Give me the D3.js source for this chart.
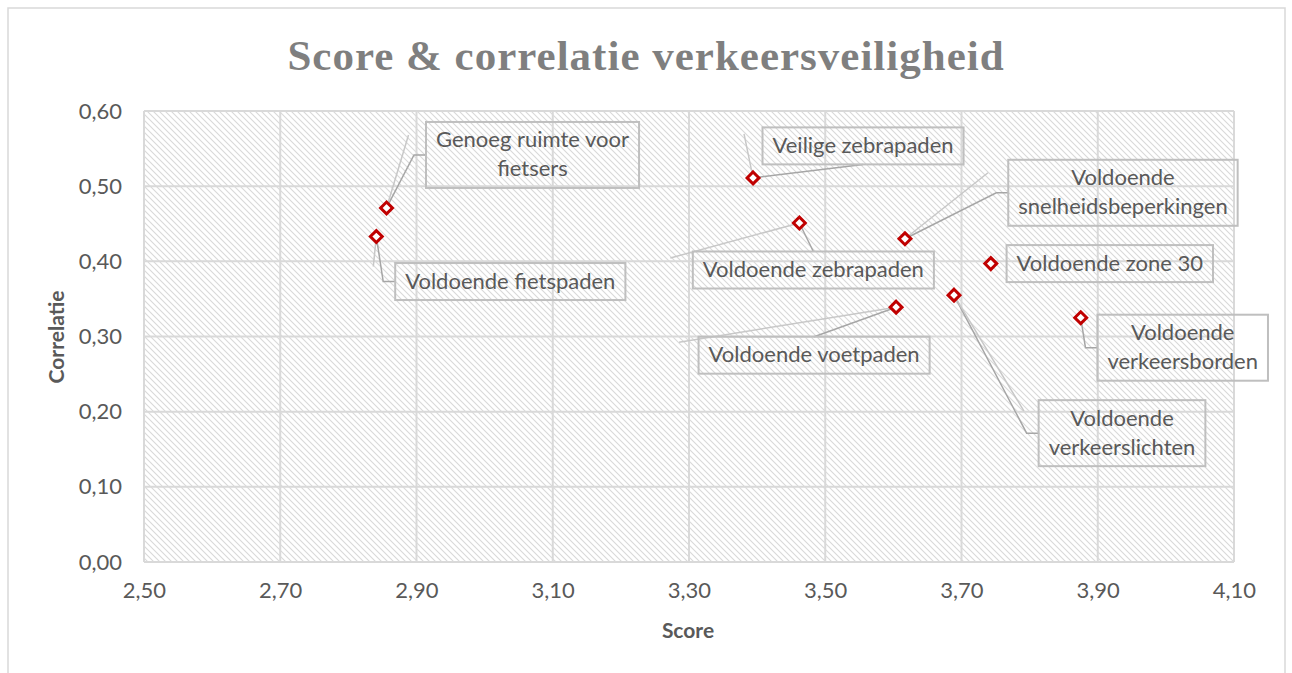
<!DOCTYPE html>
<html>
<head>
<meta charset="utf-8">
<script src="https://cdn.jsdelivr.net/npm/d3@7"></script>
<style>
  body { margin: 0; background: #fff; }
  svg { display: block; }
</style>
</head>
<body>
<script>
// items and their values
const items = [
  "Genoeg ruimte voor fietsers",
  "Voldoende fietspaden",
  "Veilige zebrapaden",
  "Voldoende zebrapaden",
  "Voldoende snelheidsbeperkingen",
  "Voldoende zone 30",
  "Voldoende verkeersborden",
  "Voldoende voetpaden",
  "Voldoende verkeerslichten"
];
const scores = [2.856, 2.841, 3.394, 3.462, 3.617, 3.743, 3.875, 3.604, 3.689];
const correlations = [0.471, 0.433, 0.511, 0.451, 0.430, 0.397, 0.325, 0.339, 0.355];

const xTicks = [2.5, 2.7, 2.9, 3.1, 3.3, 3.5, 3.7, 3.9, 4.1];
const yTicks = [0, 0.1, 0.2, 0.3, 0.4, 0.5, 0.6];

// label text lines, label offsets (from the marker) and leader style
const labelLines = [
  ["Genoeg ruimte voor", "fietsers"],
  ["Voldoende fietspaden"],
  ["Veilige zebrapaden"],
  ["Voldoende zebrapaden"],
  ["Voldoende", "snelheidsbeperkingen"],
  ["Voldoende zone 30"],
  ["Voldoende", "verkeersborden"],
  ["Voldoende voetpaden"],
  ["Voldoende", "verkeerslichten"]
];
const labelOffsets = [[146, -53], [134, 45], [110, -32], [14, 47], [218, -46], [119, 0], [102, 30], [-82, 48], [168, 138]];
const leaderSide = ["left", "left", "bottom", "top", "left", "none", "left", "top", "left"];
const ghostLeaders = [[22, -73], [-3, 30], [-9, -44], [-129, 35], [83, -66], null, null, [-217, 35], [70, 116]];

const width = 1292;
const height = 673;
const margin = { left: 144, right: 1234, top: 111, bottom: 562 };

const fmt = (v) => d3.format(".2f")(v).replace(".", ",");

const x = d3.scaleLinear().domain([2.5, 4.1]).range([margin.left, margin.right]);
const y = d3.scaleLinear().domain([0, 0.6]).range([margin.bottom, margin.top]);

const svg = d3.select("body").append("svg")
  .attr("width", width)
  .attr("height", height);

// hatch pattern for the plot area
const defs = svg.append("defs");
const pat = defs.append("pattern")
  .attr("id", "hatch")
  .attr("patternUnits", "userSpaceOnUse")
  .attr("width", 6)
  .attr("height", 6);
pat.append("rect").attr("width", 6).attr("height", 6).attr("fill", "#fff");
pat.append("path")
  .attr("d", "M0,0 L6,6 M-1,5 L1,7 M5,-1 L7,1")
  .attr("stroke", "#d9d9d9")
  .attr("stroke-width", 1.1);

// chart frame
svg.append("rect")
  .attr("x", 8).attr("y", 8)
  .attr("width", 1277).attr("height", 700)
  .attr("fill", "#fff")
  .attr("stroke", "#d9d9d9")
  .attr("stroke-width", 1.5);

svg.append("text")
  .attr("x", 646)
  .attr("y", 70)
  .attr("text-anchor", "middle")
  .attr("font-family", "'Liberation Serif', serif")
  .attr("font-weight", "bold")
  .attr("font-size", 43)
  .attr("letter-spacing", 1)
  .attr("fill", "#7f7f7f")
  .text("Score & correlatie verkeersveiligheid");

svg.append("rect")
  .attr("x", margin.left).attr("y", margin.top)
  .attr("width", margin.right - margin.left)
  .attr("height", margin.bottom - margin.top)
  .attr("fill", "url(#hatch)");

// gridlines
const grid = svg.append("g").attr("stroke", "#d9d9d9").attr("stroke-width", 2);
grid.selectAll("line.v").data(xTicks).join("line")
  .attr("class", "v")
  .attr("x1", (d) => x(d)).attr("x2", (d) => x(d))
  .attr("y1", margin.top).attr("y2", margin.bottom);
grid.selectAll("line.h").data(yTicks).join("line")
  .attr("class", "h")
  .attr("x1", margin.left).attr("x2", margin.right)
  .attr("y1", (d) => y(d)).attr("y2", (d) => y(d));

// axes (labels only)
const xAxis = svg.append("g")
  .attr("transform", `translate(0,${margin.bottom + 8})`)
  .call(d3.axisBottom(x).tickValues(xTicks).tickFormat(fmt).tickSize(0).tickPadding(12));
const yAxis = svg.append("g")
  .attr("transform", `translate(${margin.left - 22},0)`)
  .call(d3.axisLeft(y).tickValues(yTicks).tickFormat(fmt).tickSize(0).tickPadding(0));
[xAxis, yAxis].forEach((a) => {
  a.select(".domain").remove();
  a.selectAll("text")
    .attr("font-family", "Lato, sans-serif")
    .attr("font-size", 22)
    .attr("fill", "#595959");
});

svg.append("text")
  .attr("x", 688).attr("y", 638)
  .attr("text-anchor", "middle")
  .attr("font-family", "Lato, sans-serif")
  .attr("font-weight", "bold")
  .attr("font-size", 21)
  .attr("fill", "#595959")
  .text("Score");

svg.append("text")
  .attr("transform", "translate(64,337) rotate(-90)")
  .attr("text-anchor", "middle")
  .attr("font-family", "Lato, sans-serif")
  .attr("font-weight", "bold")
  .attr("font-size", 21)
  .attr("fill", "#595959")
  .text("Correlatie");

// data labels with leader lines
const labelsG = svg.append("g");
items.forEach((name, i) => {
  const mx = x(scores[i]);
  const my = y(correlations[i]);
  const cx = mx + labelOffsets[i][0];
  const cy = my + labelOffsets[i][1];
  const lines = labelLines[i];
  const lineH = 29;

  const g = labelsG.append("g");
  const txt = g.append("text")
    .attr("text-anchor", "middle")
    .attr("font-family", "Lato, sans-serif")
    .attr("font-size", 22)
    .attr("fill", "#595959");
  lines.forEach((t, k) => {
    txt.append("tspan")
      .attr("x", cx)
      .attr("y", cy + (k - (lines.length - 1) / 2) * lineH + 7)
      .text(t);
  });
  const tw = d3.max(txt.selectAll("tspan").nodes(), (n) => n.getComputedTextLength());
  const bw = tw + 20;
  const bh = lines.length * lineH + 8;
  const x0 = cx - bw / 2, y0 = cy - bh / 2;
  g.insert("rect", "text")
    .attr("x", x0).attr("y", y0)
    .attr("width", bw).attr("height", bh)
    .attr("fill", "none")
    .attr("stroke", "#bfbfbf")
    .attr("stroke-width", 2);

  const lineG = labelsG.insert("g", ":first-child")
    .attr("fill", "none")
    .attr("stroke", "#a6a6a6")
    .attr("stroke-width", 1.5);
  let pts = null;
  if (leaderSide[i] === "left") pts = [[mx, my], [x0 - 12, cy], [x0, cy]];
  if (leaderSide[i] === "top") pts = [[mx, my], [cx, y0]];
  if (leaderSide[i] === "bottom") pts = [[mx, my], [cx, y0 + bh]];
  if (pts) lineG.append("path").attr("d", d3.line()(pts));
  if (ghostLeaders[i]) {
    lineG.append("path")
      .attr("stroke", "#c8c8c8")
      .attr("d", d3.line()([[mx, my], [mx + ghostLeaders[i][0], my + ghostLeaders[i][1]]]));
  }
});

// markers
svg.append("g").selectAll("path").data(items).join("path")
  .attr("transform", (d, i) => `translate(${x(scores[i])},${y(correlations[i])})`)
  .attr("d", d3.symbol().type(d3.symbolDiamond2).size(90)())
  .attr("fill", "#fff")
  .attr("stroke", "#c00000")
  .attr("stroke-width", 3);
</script>
</body>
</html>
